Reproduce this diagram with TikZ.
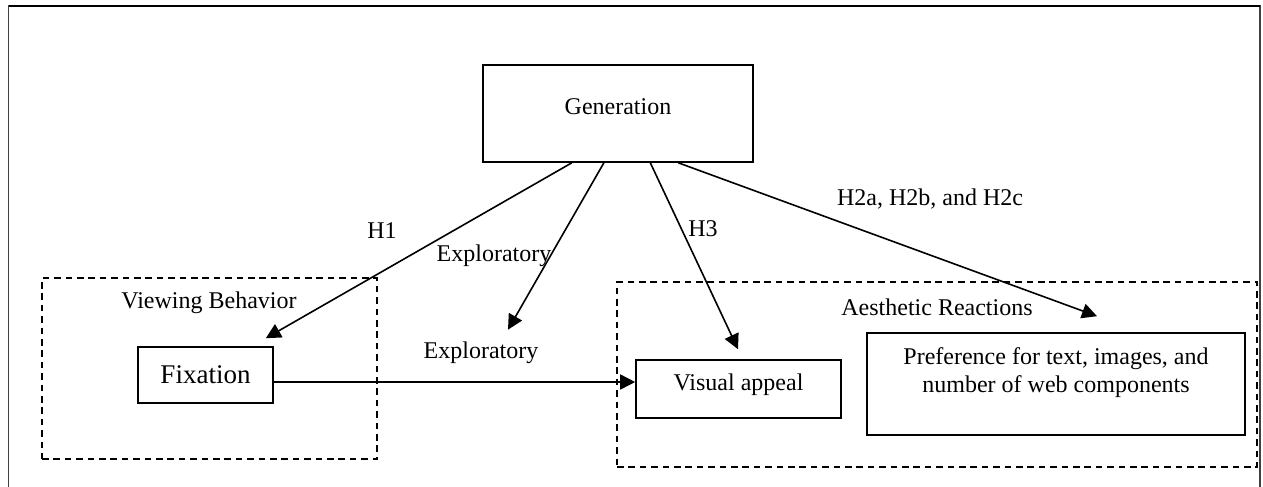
\documentclass[tikz,border=0pt]{standalone}
\usepackage{fontspec}
\setmainfont{Liberation Serif}
\usetikzlibrary{arrows.meta,calc}
\tikzset{
  txt/.style={font=\fontsize{12pt}{14pt}\selectfont, inner sep=0pt, align=center},
  solidbox/.style={draw, line width=0.8pt, inner sep=0pt},
  groupbox/.style={draw, dash pattern=on 3.3pt off 2.4pt, line width=0.9pt},
  link/.style={line width=0.8pt, -{Triangle[length=7.5pt,width=7.5pt]}},
}
\begin{document}
\begin{tikzpicture}[x=0.5pt,y=-0.5pt]
\useasboundingbox (0,0) rectangle (1263,487);
% outer frame
\draw[line width=0.6pt, black!75] (8.5,487) -- (8.5,6) -- (1260,6) -- (1260,487);
\draw[line width=1.1pt] (8.5,6) -- (1260,6);

% groups
\node[groupbox, minimum width=167.5pt, minimum height=90.5pt] (vb) at (209.5,368.5) {};
\node[txt] (vblabel) at (209,303) {Viewing Behavior};
\node[groupbox, minimum width=320pt, minimum height=92.5pt] (ar) at (937,374.5) {};
\node[txt] (arlabel) at (937,307) {Aesthetic Reactions};

% boxes
\node[solidbox, minimum width=135pt, minimum height=48.5pt,
      label={[txt,yshift=3.25pt]center:Generation}] (gen) at (618,113.5) {};
\node[solidbox, minimum width=67.5pt, minimum height=28pt,
      font=\fontsize{13.5pt}{16pt}\selectfont] (fix) at (205.5,375) {Fixation};
\node[solidbox, minimum width=102.5pt, minimum height=29pt,
      label={[txt,yshift=2pt]center:Visual appeal}] (vis) at (738.5,389) {};
\node[solidbox, minimum width=189pt, minimum height=51pt,
      label={[txt,yshift=5.5pt]center:Preference for text, images, and\\number of web components}] (pref) at (1056,384) {};

% target text of exploratory path
\node[txt] (exp2) at (481,353) {Exploratory};

% start points on generation box
\coordinate (s1) at ($(gen.south west)!0.33!(gen.south east)$);
\coordinate (s2) at ($(gen.south west)!0.448!(gen.south east)$);
\coordinate (s3) at ($(gen.south west)!0.619!(gen.south east)$);
\coordinate (s4) at ($(gen.south west)!0.722!(gen.south east)$);

% connectors
\draw[link] (s1) -- ($(fix.north east)+(-8,-8)$);
\draw[link] (s2) -- ($(exp2.north)+(27,-12)$);
\draw[link] (s3) -- ($(vis.north)+(-0.5,-10)$);
\draw[link] (s4) -- ($(pref.north)+(41,-16)$);
\draw[link] ([yshift=-3.5pt]fix.east) -- ([yshift=3.5pt]vis.west);

% connector labels
\node[txt] (lh1) at (382,231) {H1};
\node[txt] (lexp) at (494,256) {Exploratory};
\node[txt] (lh3) at (703,229) {H3};
\node[txt] (lh2) at (930,199) {H2a, H2b, and H2c};
\end{tikzpicture}
\end{document}
